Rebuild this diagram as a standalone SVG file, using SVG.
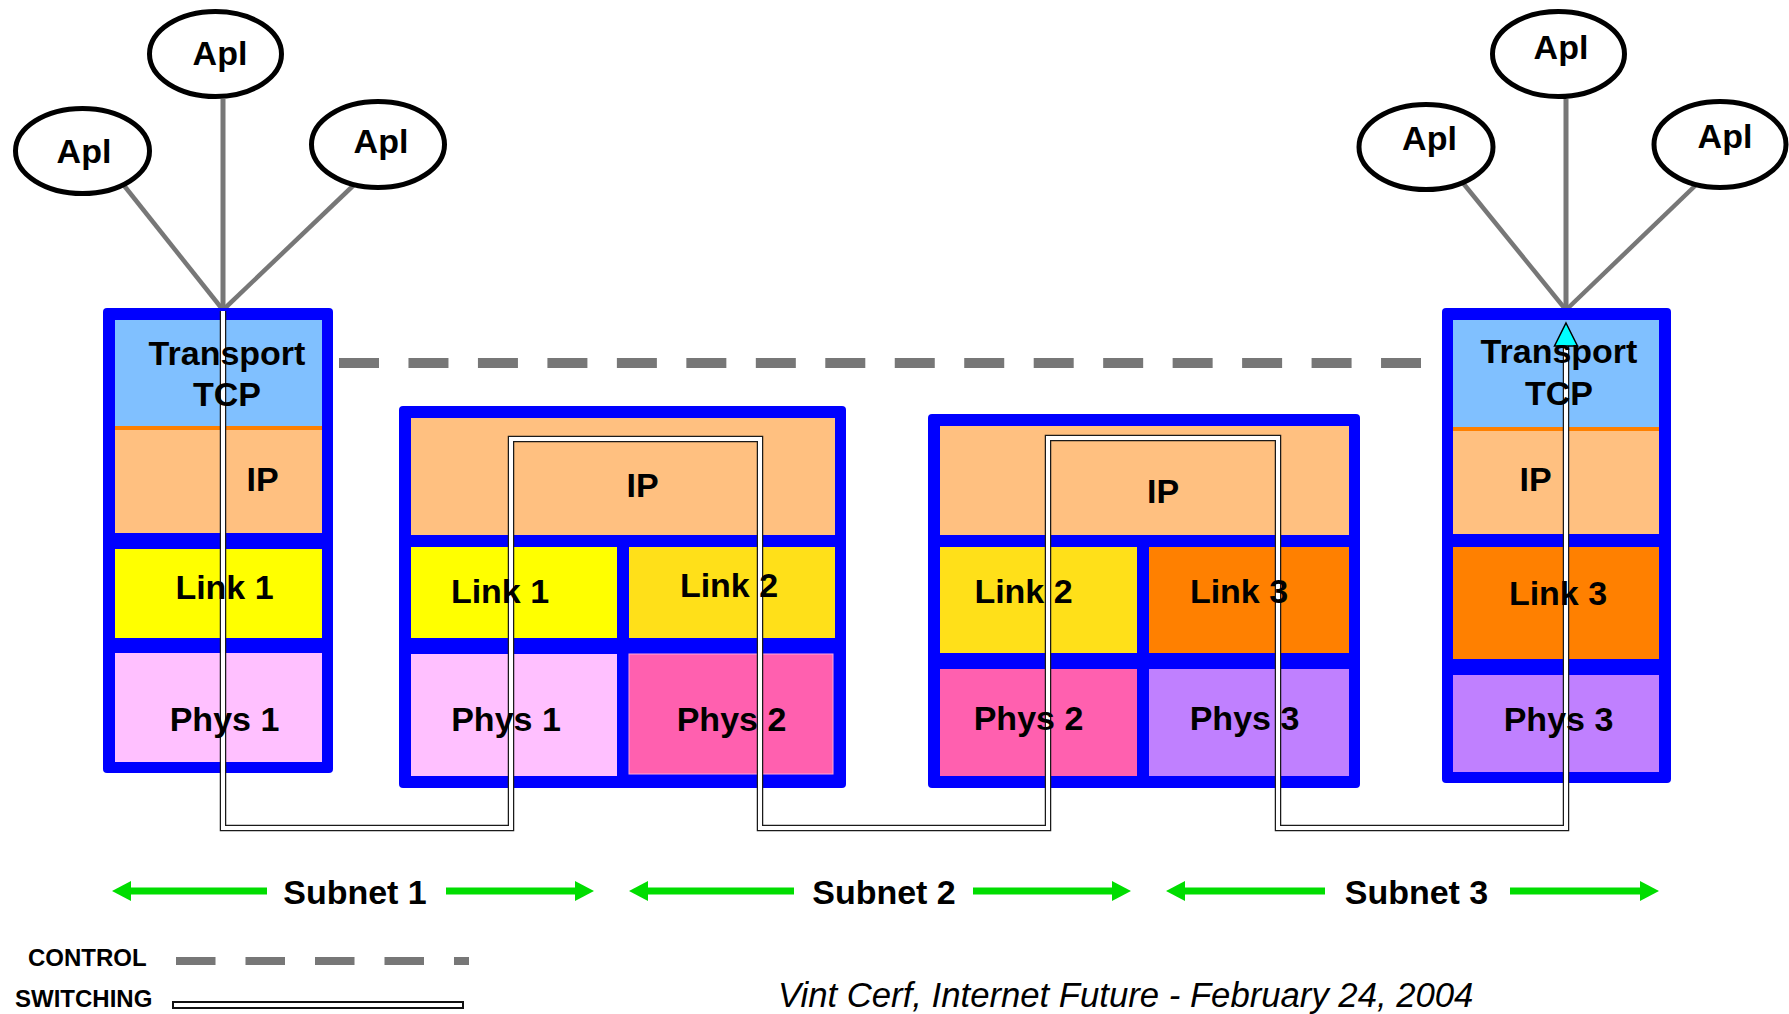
<svg xmlns="http://www.w3.org/2000/svg" width="1789" height="1014" viewBox="0 0 1789 1014">
  <defs>
    <style>
      .frame{fill:#0000FF}
      .tp{fill:#80C0FF}
      .ip{fill:#FFC080}
      .sep{fill:#FF8000}
      .l1{fill:#FFFF00}
      .l2{fill:#FFE019}
      .l3{fill:#FF8000}
      .p1{fill:#FFC0FF}
      .p2{fill:#FF60AF}
      .p3{fill:#C080FF}
      .apl{fill:#FFFFFF;stroke:#000000;stroke-width:5}
      .stem{stroke:#777777;stroke-width:4.5;fill:none}
      .stem-v{stroke:#777777;stroke-width:5;fill:none}
      .lbl{font-family:"Liberation Sans",Arial,sans-serif;font-weight:bold;font-size:34px;fill:#000000;text-anchor:middle}
      .leg{font-family:"Liberation Sans",Arial,sans-serif;font-weight:bold;font-size:24px;fill:#000000}
      .credit{font-family:"Liberation Sans",Arial,sans-serif;font-style:italic;font-size:34.7px;fill:#000000}
      .ctrl{stroke:#777777;stroke-width:10;stroke-dasharray:40 29.47;fill:none}
      .ctrl-leg{stroke:#777777;stroke-width:8;stroke-dasharray:39.5 30;fill:none}
      .sw-out{stroke:#1A1A1A;stroke-width:6.5;fill:none;stroke-linejoin:miter}
      .sw-in{stroke:#FFFFFF;stroke-width:4;fill:none;stroke-linejoin:miter}
      .span{stroke:#00DD00;stroke-width:7;fill:none;marker-end:url(#greenHead)}
    </style>
    <marker id="greenHead" markerUnits="userSpaceOnUse" viewBox="0 0 19 20" markerWidth="19" markerHeight="20" refX="2" refY="10" orient="auto">
      <path d="M0,0 L19,10 L0,20 Z" fill="#00DD00"/>
    </marker>
  </defs>

  <rect x="0" y="0" width="1789" height="1014" fill="#FFFFFF"/>

  <!-- application stems (host A and host B) -->
  <g id="apl-stems">
    <line class="stem" x1="122" y1="183" x2="223" y2="310"/>
    <line class="stem-v" x1="223" y1="99" x2="223" y2="310"/>
    <line class="stem" x1="356" y1="183" x2="223" y2="310"/>
    <line class="stem" x1="1463" y1="183" x2="1566" y2="310"/>
    <line class="stem-v" x1="1566" y1="99" x2="1566" y2="310"/>
    <line class="stem" x1="1698" y1="183" x2="1566" y2="310"/>
  </g>

  <!-- applications -->
  <g id="apl-a1"><ellipse class="apl" cx="82.5" cy="151" rx="67" ry="42.5"/><text class="lbl" x="84" y="163">Apl</text></g>
  <g id="apl-a2"><ellipse class="apl" cx="215.5" cy="54" rx="66" ry="42.5"/><text class="lbl" x="220" y="65">Apl</text></g>
  <g id="apl-a3"><ellipse class="apl" cx="378" cy="144.5" rx="66.5" ry="43"/><text class="lbl" x="381" y="153">Apl</text></g>
  <g id="apl-b1"><ellipse class="apl" cx="1426" cy="147" rx="67" ry="42.5"/><text class="lbl" x="1429.5" y="150">Apl</text></g>
  <g id="apl-b2"><ellipse class="apl" cx="1558.5" cy="54" rx="66" ry="42.5"/><text class="lbl" x="1561" y="59">Apl</text></g>
  <g id="apl-b3"><ellipse class="apl" cx="1720" cy="144.5" rx="66" ry="43"/><text class="lbl" x="1725" y="148">Apl</text></g>

  <!-- host A protocol stack -->
  <g id="host-a">
    <rect class="frame" x="103" y="308" width="230" height="465" rx="4"/>
    <rect class="tp" x="115" y="320" width="207" height="106"/>
    <rect class="sep" x="115" y="426" width="207" height="4"/>
    <rect class="ip" x="115" y="430" width="207" height="103"/>
    <rect class="l1" x="115" y="549" width="207" height="89"/>
    <rect class="p1" x="115" y="653" width="207" height="109"/>
  </g>

  <!-- router 1 -->
  <g id="router-1">
    <rect class="frame" x="399" y="406" width="447" height="382" rx="4"/>
    <rect class="ip" x="411" y="418" width="424" height="117"/>
    <rect class="l1" x="411" y="547" width="206" height="91"/>
    <rect class="l2" x="629" y="547" width="206" height="91"/>
    <rect class="p1" x="411" y="654" width="206" height="122"/>
    <rect class="p2" x="629" y="654" width="204" height="120" stroke="#FFA8D8" stroke-width="1"/>
  </g>

  <!-- router 2 -->
  <g id="router-2">
    <rect class="frame" x="928" y="414" width="432" height="374" rx="4"/>
    <rect class="ip" x="940" y="426" width="409" height="109"/>
    <rect class="l2" x="940" y="547" width="197" height="106"/>
    <rect class="l3" x="1149" y="547" width="200" height="106"/>
    <rect class="p2" x="940" y="669" width="197" height="107"/>
    <rect class="p3" x="1149" y="669" width="200" height="107"/>
  </g>

  <!-- host B protocol stack -->
  <g id="host-b">
    <rect class="frame" x="1442" y="308" width="229" height="475" rx="4"/>
    <rect class="tp" x="1453" y="320" width="206" height="107"/>
    <rect class="sep" x="1453" y="427" width="206" height="4"/>
    <rect class="ip" x="1453" y="431" width="206" height="103"/>
    <rect class="l3" x="1453" y="547" width="206" height="112"/>
    <rect class="p3" x="1453" y="675" width="206" height="97"/>
  </g>

  <!-- control and switching paths -->
  <g id="connectors">
    <line id="control-path" class="ctrl" x1="339" y1="363" x2="1421" y2="363"/>
    <g id="switching-path">
      <path class="sw-out" d="M223,311 V828 H511 V439 H760 V828 H1048 V438 H1278 V828 H1566 V345"/>
      <path class="sw-in" d="M223,311 V828 H511 V439 H760 V828 H1048 V438 H1278 V828 H1566 V345"/>
      <polygon points="1566,323 1577.5,346 1554.5,346" fill="#00FFFF" stroke="#000000" stroke-width="1.5" stroke-linejoin="miter"/>
    </g>
  </g>

  <!-- layer labels -->
  <g id="host-a-labels">
    <text class="lbl" x="227" y="365">Transport</text>
    <text class="lbl" x="227" y="406">TCP</text>
    <text class="lbl" x="262.5" y="491">IP</text>
    <text class="lbl" x="224.5" y="599">Link 1</text>
    <text class="lbl" x="224.5" y="731">Phys 1</text>
  </g>
  <g id="router-1-labels">
    <text class="lbl" x="642.5" y="497">IP</text>
    <text class="lbl" x="500" y="603">Link 1</text>
    <text class="lbl" x="729" y="597">Link 2</text>
    <text class="lbl" x="506" y="731">Phys 1</text>
    <text class="lbl" x="731.5" y="731">Phys 2</text>
  </g>
  <g id="router-2-labels">
    <text class="lbl" x="1163" y="503">IP</text>
    <text class="lbl" x="1023.5" y="603">Link 2</text>
    <text class="lbl" x="1239" y="603">Link 3</text>
    <text class="lbl" x="1028.5" y="730">Phys 2</text>
    <text class="lbl" x="1244.5" y="730">Phys 3</text>
  </g>
  <g id="host-b-labels">
    <text class="lbl" x="1559" y="363">Transport</text>
    <text class="lbl" x="1559" y="405">TCP</text>
    <text class="lbl" x="1535.5" y="491">IP</text>
    <text class="lbl" x="1558" y="605">Link 3</text>
    <text class="lbl" x="1558.5" y="731">Phys 3</text>
  </g>

  <!-- subnet spans -->
  <g id="subnet-1">
    <line class="span" x1="267" y1="891" x2="129" y2="891"/>
    <line class="span" x1="446" y1="891" x2="577" y2="891"/>
    <text class="lbl" x="355" y="904">Subnet 1</text>
  </g>
  <g id="subnet-2">
    <line class="span" x1="794" y1="891" x2="646" y2="891"/>
    <line class="span" x1="973" y1="891" x2="1114" y2="891"/>
    <text class="lbl" x="884" y="904">Subnet 2</text>
  </g>
  <g id="subnet-3">
    <line class="span" x1="1325" y1="891" x2="1183" y2="891"/>
    <line class="span" x1="1510" y1="891" x2="1642" y2="891"/>
    <text class="lbl" x="1416.5" y="904">Subnet 3</text>
  </g>

  <!-- legend -->
  <g id="legend">
    <text class="leg" x="28" y="966">CONTROL</text>
    <line class="ctrl-leg" x1="176" y1="961" x2="469" y2="961"/>
    <text class="leg" x="15" y="1007">SWITCHING</text>
    <rect x="173" y="1002" width="290" height="6" fill="#FFFFFF" stroke="#111111" stroke-width="2"/>
  </g>

  <text id="credit" class="credit" x="778" y="1007">Vint Cerf, Internet Future - February 24, 2004</text>
</svg>
